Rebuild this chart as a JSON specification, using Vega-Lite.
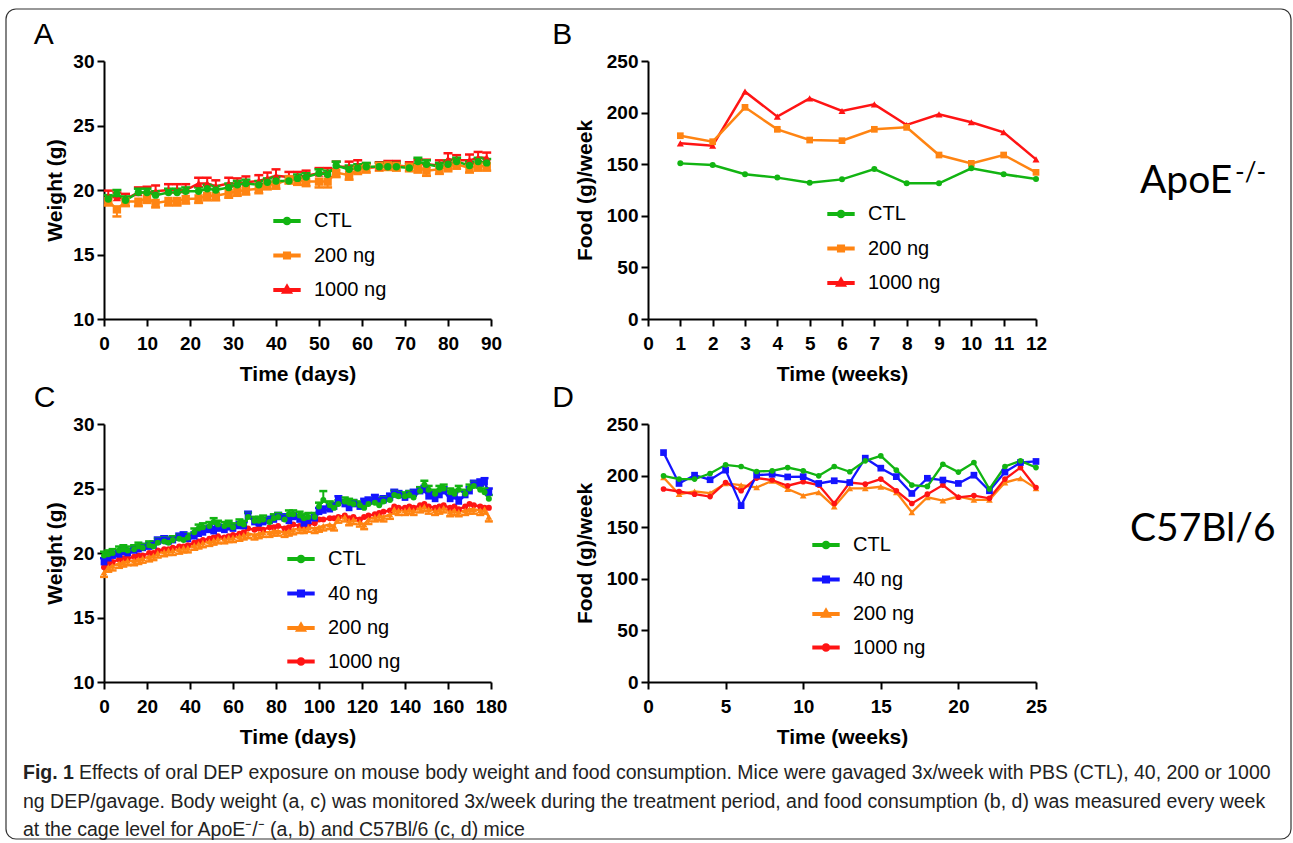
{
"$schema": "https://vega.github.io/schema/vega-lite/v6.json",
"background": "white",
"padding": {"left": 5, "top": 8, "right": 3, "bottom": 4},
"config": {
  "view": {"stroke": null},
  "font": "Liberation Sans",
  "axis": {"domainColor": "black", "domainWidth": 2, "tickColor": "black", "tickWidth": 2, "tickSize": 7, "labelFont": "Liberation Sans", "labelFontSize": 19, "labelFontWeight": "bold", "labelColor": "black", "titleFont": "Liberation Sans", "titleFontSize": 21, "titleFontWeight": "bold", "titleColor": "black", "grid": false, "labelFlush": false, "labelOverlap": false},
  "axisX": {"labelPadding": 8, "titlePadding": 10},
  "axisY": {"labelPadding": 3, "titlePadding": 7},
  "legend": {"labelFont": "Liberation Sans", "labelFontSize": 20, "labelColor": "black", "symbolSize": 750, "symbolStrokeWidth": 4, "rowPadding": 7.5, "labelOffset": 11, "padding": 0, "symbolOpacity": 1, "orient": "none", "title": null},
  "title": {"fontSize": 30, "font": "Liberation Sans Narrow, Liberation Sans", "fontWeight": "normal", "color": "black", "anchor": "start", "frame": "bounds", "offset": 2}
},
"datasets": {
  "A": [
    {"d":1,"s":"1000 ng","v":19.5,"eb":19.95},{"d":3,"s":"1000 ng","v":19.4,"eb":19.8},{"d":5,"s":"1000 ng","v":19.3,"eb":19.7},{"d":8,"s":"1000 ng","v":19.8,"eb":20.2},{"d":10,"s":"1000 ng","v":19.8,"eb":20.25},{"d":12,"s":"1000 ng","v":19.9,"eb":20.35},{"d":15,"s":"1000 ng","v":20.0,"eb":20.45},{"d":17,"s":"1000 ng","v":20.0,"eb":20.45},{"d":19,"s":"1000 ng","v":20.0,"eb":20.45},{"d":22,"s":"1000 ng","v":20.5,"eb":20.95},{"d":24,"s":"1000 ng","v":20.5,"eb":20.95},{"d":26,"s":"1000 ng","v":20.3,"eb":20.75},{"d":29,"s":"1000 ng","v":20.5,"eb":20.95},{"d":31,"s":"1000 ng","v":20.5,"eb":20.9},{"d":33,"s":"1000 ng","v":20.6,"eb":21.05},{"d":36,"s":"1000 ng","v":20.7,"eb":21.15},{"d":38,"s":"1000 ng","v":20.9,"eb":21.35},{"d":40,"s":"1000 ng","v":21.1,"eb":21.6},{"d":43,"s":"1000 ng","v":21.0,"eb":21.4},{"d":45,"s":"1000 ng","v":21.0,"eb":21.4},{"d":47,"s":"1000 ng","v":21.1,"eb":21.5},{"d":50,"s":"1000 ng","v":21.3,"eb":21.7},{"d":52,"s":"1000 ng","v":21.3,"eb":21.7},{"d":54,"s":"1000 ng","v":21.8,"eb":22.2},{"d":57,"s":"1000 ng","v":21.8,"eb":22.2},{"d":59,"s":"1000 ng","v":21.9,"eb":22.3},{"d":61,"s":"1000 ng","v":21.7,"eb":22.05},{"d":64,"s":"1000 ng","v":21.8,"eb":22.15},{"d":66,"s":"1000 ng","v":21.9,"eb":22.25},{"d":68,"s":"1000 ng","v":21.9,"eb":22.25},{"d":71,"s":"1000 ng","v":21.8,"eb":22.15},{"d":73,"s":"1000 ng","v":22.0,"eb":22.35},{"d":75,"s":"1000 ng","v":22.0,"eb":22.35},{"d":78,"s":"1000 ng","v":21.9,"eb":22.3},{"d":80,"s":"1000 ng","v":22.4,"eb":22.85},{"d":82,"s":"1000 ng","v":22.3,"eb":22.7},{"d":85,"s":"1000 ng","v":22.3,"eb":22.75},{"d":87,"s":"1000 ng","v":22.5,"eb":22.95},{"d":89,"s":"1000 ng","v":22.5,"eb":22.9},
    {"d":1,"s":"200 ng","v":19.15,"eb":18.8},{"d":3,"s":"200 ng","v":18.5,"eb":17.95},{"d":5,"s":"200 ng","v":19.1,"eb":18.75},{"d":8,"s":"200 ng","v":19.1,"eb":18.75},{"d":10,"s":"200 ng","v":19.35,"eb":19.0},{"d":12,"s":"200 ng","v":19.0,"eb":18.65},{"d":15,"s":"200 ng","v":19.15,"eb":18.8},{"d":17,"s":"200 ng","v":19.15,"eb":18.8},{"d":19,"s":"200 ng","v":19.3,"eb":18.95},{"d":22,"s":"200 ng","v":19.35,"eb":19.0},{"d":24,"s":"200 ng","v":19.55,"eb":19.2},{"d":26,"s":"200 ng","v":19.55,"eb":19.2},{"d":29,"s":"200 ng","v":19.75,"eb":19.4},{"d":31,"s":"200 ng","v":19.9,"eb":19.55},{"d":33,"s":"200 ng","v":20.0,"eb":19.65},{"d":36,"s":"200 ng","v":20.1,"eb":19.75},{"d":38,"s":"200 ng","v":20.4,"eb":20.05},{"d":40,"s":"200 ng","v":20.45,"eb":20.1},{"d":43,"s":"200 ng","v":20.85,"eb":20.5},{"d":45,"s":"200 ng","v":20.75,"eb":20.4},{"d":47,"s":"200 ng","v":20.65,"eb":20.3},{"d":50,"s":"200 ng","v":20.65,"eb":20.2},{"d":52,"s":"200 ng","v":20.65,"eb":20.2},{"d":54,"s":"200 ng","v":21.35,"eb":21.0},{"d":57,"s":"200 ng","v":21.15,"eb":20.8},{"d":59,"s":"200 ng","v":21.6,"eb":21.25},{"d":61,"s":"200 ng","v":21.7,"eb":21.35},{"d":64,"s":"200 ng","v":21.85,"eb":21.5},{"d":66,"s":"200 ng","v":21.9,"eb":21.55},{"d":68,"s":"200 ng","v":21.85,"eb":21.5},{"d":71,"s":"200 ng","v":21.8,"eb":21.45},{"d":73,"s":"200 ng","v":21.7,"eb":21.35},{"d":75,"s":"200 ng","v":21.5,"eb":21.1},{"d":78,"s":"200 ng","v":21.6,"eb":21.25},{"d":80,"s":"200 ng","v":21.8,"eb":21.45},{"d":82,"s":"200 ng","v":22.0,"eb":21.65},{"d":85,"s":"200 ng","v":21.7,"eb":21.35},{"d":87,"s":"200 ng","v":21.85,"eb":21.5},{"d":89,"s":"200 ng","v":21.85,"eb":21.5},
    {"d":1,"s":"CTL","v":19.3,"eb":19.6},{"d":3,"s":"CTL","v":19.7,"eb":20.0},{"d":5,"s":"CTL","v":19.2,"eb":19.5},{"d":8,"s":"CTL","v":19.8,"eb":20.1},{"d":10,"s":"CTL","v":19.8,"eb":20.1},{"d":12,"s":"CTL","v":19.6,"eb":19.9},{"d":15,"s":"CTL","v":19.8,"eb":20.1},{"d":17,"s":"CTL","v":19.8,"eb":20.1},{"d":19,"s":"CTL","v":19.9,"eb":20.2},{"d":22,"s":"CTL","v":19.9,"eb":20.2},{"d":24,"s":"CTL","v":20.1,"eb":20.4},{"d":26,"s":"CTL","v":20.0,"eb":20.3},{"d":29,"s":"CTL","v":20.2,"eb":20.5},{"d":31,"s":"CTL","v":20.4,"eb":20.7},{"d":33,"s":"CTL","v":20.5,"eb":20.8},{"d":36,"s":"CTL","v":20.4,"eb":20.7},{"d":38,"s":"CTL","v":20.6,"eb":20.9},{"d":40,"s":"CTL","v":20.7,"eb":21.0},{"d":43,"s":"CTL","v":20.7,"eb":21.0},{"d":45,"s":"CTL","v":20.9,"eb":21.2},{"d":47,"s":"CTL","v":21.0,"eb":21.3},{"d":50,"s":"CTL","v":21.3,"eb":21.6},{"d":52,"s":"CTL","v":21.2,"eb":21.5},{"d":54,"s":"CTL","v":21.9,"eb":22.2},{"d":57,"s":"CTL","v":21.6,"eb":21.9},{"d":59,"s":"CTL","v":21.7,"eb":22.0},{"d":61,"s":"CTL","v":21.8,"eb":22.1},{"d":64,"s":"CTL","v":21.8,"eb":22.1},{"d":66,"s":"CTL","v":21.8,"eb":22.1},{"d":68,"s":"CTL","v":21.8,"eb":22.1},{"d":71,"s":"CTL","v":21.7,"eb":22.0},{"d":73,"s":"CTL","v":22.2,"eb":22.5},{"d":75,"s":"CTL","v":22.0,"eb":22.3},{"d":78,"s":"CTL","v":21.8,"eb":22.1},{"d":80,"s":"CTL","v":22.0,"eb":22.3},{"d":82,"s":"CTL","v":22.2,"eb":22.5},{"d":85,"s":"CTL","v":21.9,"eb":22.2},{"d":87,"s":"CTL","v":22.2,"eb":22.5},{"d":89,"s":"CTL","v":22.1,"eb":22.4}
  ],
  "B": [
    {"d":1,"s":"1000 ng","v":170.2},{"d":2,"s":"1000 ng","v":168},{"d":3,"s":"1000 ng","v":220.3},{"d":4,"s":"1000 ng","v":196.1},{"d":5,"s":"1000 ng","v":213.8},{"d":6,"s":"1000 ng","v":201.6},{"d":7,"s":"1000 ng","v":208},{"d":8,"s":"1000 ng","v":188},{"d":9,"s":"1000 ng","v":198.3},{"d":10,"s":"1000 ng","v":190.6},{"d":11,"s":"1000 ng","v":180.9},{"d":12,"s":"1000 ng","v":154.7},
    {"d":1,"s":"200 ng","v":177.6},{"d":2,"s":"200 ng","v":171.8},{"d":3,"s":"200 ng","v":205.1},{"d":4,"s":"200 ng","v":183.8},{"d":5,"s":"200 ng","v":173.4},{"d":6,"s":"200 ng","v":172.8},{"d":7,"s":"200 ng","v":183.8},{"d":8,"s":"200 ng","v":185.7},{"d":9,"s":"200 ng","v":158.9},{"d":10,"s":"200 ng","v":150.8},{"d":11,"s":"200 ng","v":158.9},{"d":12,"s":"200 ng","v":142.1},
    {"d":1,"s":"CTL","v":150.8},{"d":2,"s":"CTL","v":149.2},{"d":3,"s":"CTL","v":140.2},{"d":4,"s":"CTL","v":137},{"d":5,"s":"CTL","v":132.1},{"d":6,"s":"CTL","v":135.3},{"d":7,"s":"CTL","v":145.3},{"d":8,"s":"CTL","v":131.5},{"d":9,"s":"CTL","v":131.5},{"d":10,"s":"CTL","v":146},{"d":11,"s":"CTL","v":140.2},{"d":12,"s":"CTL","v":135.7}
  ],
  "C": [
    {"d":0,"s":"1000 ng","v":18.9},{"d":2,"s":"1000 ng","v":19.2},{"d":4,"s":"1000 ng","v":19.3},{"d":7,"s":"1000 ng","v":19.5},{"d":9,"s":"1000 ng","v":19.6},{"d":11,"s":"1000 ng","v":19.6},{"d":14,"s":"1000 ng","v":19.7},{"d":16,"s":"1000 ng","v":19.8},{"d":18,"s":"1000 ng","v":19.8},{"d":21,"s":"1000 ng","v":20.0},{"d":23,"s":"1000 ng","v":20.0},{"d":25,"s":"1000 ng","v":20.2},{"d":28,"s":"1000 ng","v":20.3},{"d":30,"s":"1000 ng","v":20.3},{"d":32,"s":"1000 ng","v":20.4},{"d":35,"s":"1000 ng","v":20.5},{"d":37,"s":"1000 ng","v":20.5},{"d":39,"s":"1000 ng","v":20.6},{"d":42,"s":"1000 ng","v":20.8},{"d":44,"s":"1000 ng","v":20.9},{"d":46,"s":"1000 ng","v":21.0},{"d":49,"s":"1000 ng","v":21.1},{"d":51,"s":"1000 ng","v":21.2},{"d":53,"s":"1000 ng","v":21.3},{"d":56,"s":"1000 ng","v":21.2},{"d":58,"s":"1000 ng","v":21.3},{"d":60,"s":"1000 ng","v":21.4},{"d":63,"s":"1000 ng","v":21.5},{"d":65,"s":"1000 ng","v":21.6},{"d":67,"s":"1000 ng","v":21.9},{"d":70,"s":"1000 ng","v":21.8},{"d":72,"s":"1000 ng","v":21.9},{"d":74,"s":"1000 ng","v":21.8},{"d":77,"s":"1000 ng","v":22.0},{"d":79,"s":"1000 ng","v":22.0},{"d":81,"s":"1000 ng","v":22.1},{"d":84,"s":"1000 ng","v":21.9},{"d":86,"s":"1000 ng","v":22.0},{"d":88,"s":"1000 ng","v":22.2},{"d":91,"s":"1000 ng","v":22.1},{"d":93,"s":"1000 ng","v":22.1},{"d":95,"s":"1000 ng","v":22.2},{"d":98,"s":"1000 ng","v":22.3},{"d":100,"s":"1000 ng","v":22.6},{"d":102,"s":"1000 ng","v":22.6},{"d":105,"s":"1000 ng","v":22.7},{"d":107,"s":"1000 ng","v":22.7},{"d":109,"s":"1000 ng","v":22.8},{"d":112,"s":"1000 ng","v":22.9},{"d":114,"s":"1000 ng","v":22.7},{"d":116,"s":"1000 ng","v":22.8},{"d":119,"s":"1000 ng","v":22.6},{"d":121,"s":"1000 ng","v":22.8},{"d":123,"s":"1000 ng","v":22.9},{"d":126,"s":"1000 ng","v":23.0},{"d":128,"s":"1000 ng","v":23.1},{"d":130,"s":"1000 ng","v":23.2},{"d":133,"s":"1000 ng","v":23.3},{"d":135,"s":"1000 ng","v":23.6},{"d":137,"s":"1000 ng","v":23.5},{"d":140,"s":"1000 ng","v":23.5},{"d":142,"s":"1000 ng","v":23.6},{"d":144,"s":"1000 ng","v":23.5},{"d":147,"s":"1000 ng","v":23.7},{"d":149,"s":"1000 ng","v":23.8},{"d":151,"s":"1000 ng","v":23.6},{"d":154,"s":"1000 ng","v":23.5},{"d":156,"s":"1000 ng","v":23.6},{"d":158,"s":"1000 ng","v":23.7},{"d":161,"s":"1000 ng","v":23.5},{"d":163,"s":"1000 ng","v":23.6},{"d":165,"s":"1000 ng","v":23.4},{"d":168,"s":"1000 ng","v":23.6},{"d":170,"s":"1000 ng","v":23.8},{"d":172,"s":"1000 ng","v":23.7},{"d":175,"s":"1000 ng","v":23.6},{"d":177,"s":"1000 ng","v":23.5},{"d":179,"s":"1000 ng","v":23.5},
    {"d":0,"s":"200 ng","v":18.5,"eb":18.15},{"d":2,"s":"200 ng","v":18.9,"eb":18.55},{"d":4,"s":"200 ng","v":19.0,"eb":18.65},{"d":7,"s":"200 ng","v":19.2,"eb":18.85},{"d":9,"s":"200 ng","v":19.3,"eb":18.95},{"d":11,"s":"200 ng","v":19.4,"eb":19.05},{"d":14,"s":"200 ng","v":19.4,"eb":19.05},{"d":16,"s":"200 ng","v":19.5,"eb":19.15},{"d":18,"s":"200 ng","v":19.6,"eb":19.25},{"d":21,"s":"200 ng","v":19.7,"eb":19.35},{"d":23,"s":"200 ng","v":19.8,"eb":19.45},{"d":25,"s":"200 ng","v":20.0,"eb":19.65},{"d":28,"s":"200 ng","v":20.1,"eb":19.75},{"d":30,"s":"200 ng","v":20.2,"eb":19.85},{"d":32,"s":"200 ng","v":20.2,"eb":19.85},{"d":35,"s":"200 ng","v":20.3,"eb":19.95},{"d":37,"s":"200 ng","v":20.4,"eb":20.05},{"d":39,"s":"200 ng","v":20.4,"eb":20.05},{"d":42,"s":"200 ng","v":20.6,"eb":20.25},{"d":44,"s":"200 ng","v":20.7,"eb":20.35},{"d":46,"s":"200 ng","v":20.8,"eb":20.45},{"d":49,"s":"200 ng","v":20.9,"eb":20.55},{"d":51,"s":"200 ng","v":21.0,"eb":20.65},{"d":53,"s":"200 ng","v":21.1,"eb":20.75},{"d":56,"s":"200 ng","v":21.1,"eb":20.75},{"d":58,"s":"200 ng","v":21.2,"eb":20.85},{"d":60,"s":"200 ng","v":21.2,"eb":20.85},{"d":63,"s":"200 ng","v":21.3,"eb":20.95},{"d":65,"s":"200 ng","v":21.4,"eb":21.05},{"d":67,"s":"200 ng","v":21.5,"eb":21.15},{"d":70,"s":"200 ng","v":21.4,"eb":21.05},{"d":72,"s":"200 ng","v":21.5,"eb":21.15},{"d":74,"s":"200 ng","v":21.6,"eb":21.25},{"d":77,"s":"200 ng","v":21.6,"eb":21.25},{"d":79,"s":"200 ng","v":21.7,"eb":21.35},{"d":81,"s":"200 ng","v":21.7,"eb":21.35},{"d":84,"s":"200 ng","v":21.6,"eb":21.25},{"d":86,"s":"200 ng","v":21.7,"eb":21.35},{"d":88,"s":"200 ng","v":21.8,"eb":21.45},{"d":91,"s":"200 ng","v":21.9,"eb":21.55},{"d":93,"s":"200 ng","v":21.9,"eb":21.55},{"d":95,"s":"200 ng","v":22.0,"eb":21.65},{"d":98,"s":"200 ng","v":21.9,"eb":21.55},{"d":100,"s":"200 ng","v":22.0,"eb":21.65},{"d":102,"s":"200 ng","v":22.1,"eb":21.75},{"d":105,"s":"200 ng","v":22.2,"eb":21.85},{"d":107,"s":"200 ng","v":22.1,"eb":21.75},{"d":109,"s":"200 ng","v":22.7,"eb":22.35},{"d":112,"s":"200 ng","v":22.8,"eb":22.45},{"d":114,"s":"200 ng","v":22.5,"eb":22.15},{"d":116,"s":"200 ng","v":22.6,"eb":22.25},{"d":119,"s":"200 ng","v":22.4,"eb":22.05},{"d":121,"s":"200 ng","v":22.2,"eb":21.85},{"d":123,"s":"200 ng","v":22.6,"eb":22.25},{"d":126,"s":"200 ng","v":22.8,"eb":22.45},{"d":128,"s":"200 ng","v":22.9,"eb":22.55},{"d":130,"s":"200 ng","v":22.8,"eb":22.45},{"d":133,"s":"200 ng","v":23.0,"eb":22.65},{"d":135,"s":"200 ng","v":23.4,"eb":23.05},{"d":137,"s":"200 ng","v":23.3,"eb":22.95},{"d":140,"s":"200 ng","v":23.3,"eb":22.95},{"d":142,"s":"200 ng","v":23.4,"eb":23.05},{"d":144,"s":"200 ng","v":23.3,"eb":22.95},{"d":147,"s":"200 ng","v":23.5,"eb":23.15},{"d":149,"s":"200 ng","v":23.6,"eb":23.25},{"d":151,"s":"200 ng","v":23.4,"eb":23.05},{"d":154,"s":"200 ng","v":23.3,"eb":22.95},{"d":156,"s":"200 ng","v":23.4,"eb":23.05},{"d":158,"s":"200 ng","v":23.5,"eb":23.15},{"d":161,"s":"200 ng","v":23.2,"eb":22.85},{"d":163,"s":"200 ng","v":23.3,"eb":22.95},{"d":165,"s":"200 ng","v":23.2,"eb":22.85},{"d":168,"s":"200 ng","v":23.3,"eb":22.95},{"d":170,"s":"200 ng","v":23.4,"eb":23.05},{"d":172,"s":"200 ng","v":23.4,"eb":23.05},{"d":175,"s":"200 ng","v":23.3,"eb":22.95},{"d":177,"s":"200 ng","v":23.4,"eb":23.05},{"d":179,"s":"200 ng","v":22.8,"eb":22.45},
    {"d":0,"s":"40 ng","v":19.3,"eb":19.6},{"d":2,"s":"40 ng","v":19.6,"eb":19.9},{"d":4,"s":"40 ng","v":19.8,"eb":20.1},{"d":7,"s":"40 ng","v":19.9,"eb":20.2},{"d":9,"s":"40 ng","v":20.1,"eb":20.4},{"d":11,"s":"40 ng","v":20.0,"eb":20.3},{"d":14,"s":"40 ng","v":20.2,"eb":20.5},{"d":16,"s":"40 ng","v":20.3,"eb":20.6},{"d":18,"s":"40 ng","v":20.4,"eb":20.7},{"d":21,"s":"40 ng","v":20.5,"eb":20.8},{"d":23,"s":"40 ng","v":20.6,"eb":20.9},{"d":25,"s":"40 ng","v":20.9,"eb":21.2},{"d":28,"s":"40 ng","v":21.0,"eb":21.3},{"d":30,"s":"40 ng","v":20.9,"eb":21.2},{"d":32,"s":"40 ng","v":21.0,"eb":21.3},{"d":35,"s":"40 ng","v":21.2,"eb":21.5},{"d":37,"s":"40 ng","v":21.3,"eb":21.6},{"d":39,"s":"40 ng","v":21.1,"eb":21.4},{"d":42,"s":"40 ng","v":21.3,"eb":21.6},{"d":44,"s":"40 ng","v":21.5,"eb":21.8},{"d":46,"s":"40 ng","v":21.6,"eb":21.9},{"d":49,"s":"40 ng","v":21.8,"eb":22.1},{"d":51,"s":"40 ng","v":21.7,"eb":22.0},{"d":53,"s":"40 ng","v":21.9,"eb":22.2},{"d":56,"s":"40 ng","v":21.8,"eb":22.1},{"d":58,"s":"40 ng","v":22.0,"eb":22.3},{"d":60,"s":"40 ng","v":21.9,"eb":22.2},{"d":63,"s":"40 ng","v":22.1,"eb":22.4},{"d":65,"s":"40 ng","v":22.1,"eb":22.4},{"d":67,"s":"40 ng","v":22.9,"eb":23.2},{"d":70,"s":"40 ng","v":22.4,"eb":22.7},{"d":72,"s":"40 ng","v":22.3,"eb":22.6},{"d":74,"s":"40 ng","v":22.4,"eb":22.7},{"d":77,"s":"40 ng","v":22.5,"eb":22.8},{"d":79,"s":"40 ng","v":22.6,"eb":22.9},{"d":81,"s":"40 ng","v":22.8,"eb":23.1},{"d":84,"s":"40 ng","v":22.7,"eb":23.0},{"d":86,"s":"40 ng","v":22.5,"eb":22.8},{"d":88,"s":"40 ng","v":22.8,"eb":23.1},{"d":91,"s":"40 ng","v":22.6,"eb":22.9},{"d":93,"s":"40 ng","v":22.3,"eb":22.6},{"d":95,"s":"40 ng","v":22.5,"eb":22.8},{"d":98,"s":"40 ng","v":22.7,"eb":23.0},{"d":100,"s":"40 ng","v":23.2,"eb":23.5},{"d":102,"s":"40 ng","v":23.3,"eb":23.6},{"d":105,"s":"40 ng","v":23.4,"eb":23.7},{"d":107,"s":"40 ng","v":23.6,"eb":23.9},{"d":109,"s":"40 ng","v":24.1,"eb":24.4},{"d":112,"s":"40 ng","v":23.8,"eb":24.1},{"d":114,"s":"40 ng","v":23.5,"eb":23.8},{"d":116,"s":"40 ng","v":23.8,"eb":24.1},{"d":119,"s":"40 ng","v":23.6,"eb":23.9},{"d":121,"s":"40 ng","v":23.9,"eb":24.2},{"d":123,"s":"40 ng","v":24.0,"eb":24.3},{"d":126,"s":"40 ng","v":24.2,"eb":24.5},{"d":128,"s":"40 ng","v":24.0,"eb":24.3},{"d":130,"s":"40 ng","v":24.1,"eb":24.4},{"d":133,"s":"40 ng","v":24.3,"eb":24.6},{"d":135,"s":"40 ng","v":24.6,"eb":24.9},{"d":137,"s":"40 ng","v":24.5,"eb":24.8},{"d":140,"s":"40 ng","v":24.3,"eb":24.6},{"d":142,"s":"40 ng","v":24.5,"eb":24.8},{"d":144,"s":"40 ng","v":24.6,"eb":24.9},{"d":147,"s":"40 ng","v":24.8,"eb":25.1},{"d":149,"s":"40 ng","v":24.9,"eb":25.2},{"d":151,"s":"40 ng","v":24.4,"eb":24.7},{"d":154,"s":"40 ng","v":24.2,"eb":24.5},{"d":156,"s":"40 ng","v":24.5,"eb":24.8},{"d":158,"s":"40 ng","v":24.8,"eb":25.1},{"d":161,"s":"40 ng","v":24.2,"eb":24.5},{"d":163,"s":"40 ng","v":24.4,"eb":24.7},{"d":165,"s":"40 ng","v":24.0,"eb":24.3},{"d":168,"s":"40 ng","v":24.5,"eb":24.8},{"d":170,"s":"40 ng","v":24.8,"eb":25.1},{"d":172,"s":"40 ng","v":25.3,"eb":25.6},{"d":175,"s":"40 ng","v":25.4,"eb":25.7},{"d":177,"s":"40 ng","v":25.5,"eb":25.8},{"d":179,"s":"40 ng","v":24.7,"eb":25.0},
    {"d":0,"s":"CTL","v":19.8,"eb":20.1},{"d":2,"s":"CTL","v":19.9,"eb":20.2},{"d":4,"s":"CTL","v":20.0,"eb":20.3},{"d":7,"s":"CTL","v":20.2,"eb":20.5},{"d":9,"s":"CTL","v":20.3,"eb":20.6},{"d":11,"s":"CTL","v":20.2,"eb":20.5},{"d":14,"s":"CTL","v":20.3,"eb":20.6},{"d":16,"s":"CTL","v":20.5,"eb":20.8},{"d":18,"s":"CTL","v":20.4,"eb":20.7},{"d":21,"s":"CTL","v":20.6,"eb":20.9},{"d":23,"s":"CTL","v":20.5,"eb":20.8},{"d":25,"s":"CTL","v":20.8,"eb":21.1},{"d":28,"s":"CTL","v":20.9,"eb":21.2},{"d":30,"s":"CTL","v":20.8,"eb":21.1},{"d":32,"s":"CTL","v":21.0,"eb":21.3},{"d":35,"s":"CTL","v":21.1,"eb":21.4},{"d":37,"s":"CTL","v":21.0,"eb":21.3},{"d":39,"s":"CTL","v":21.2,"eb":21.5},{"d":42,"s":"CTL","v":21.6,"eb":21.9},{"d":44,"s":"CTL","v":21.9,"eb":22.2},{"d":46,"s":"CTL","v":22.0,"eb":22.3},{"d":49,"s":"CTL","v":22.1,"eb":22.4},{"d":51,"s":"CTL","v":22.4,"eb":22.7},{"d":53,"s":"CTL","v":22.2,"eb":22.5},{"d":56,"s":"CTL","v":22.1,"eb":22.4},{"d":58,"s":"CTL","v":22.2,"eb":22.5},{"d":60,"s":"CTL","v":22.0,"eb":22.3},{"d":63,"s":"CTL","v":22.3,"eb":22.6},{"d":65,"s":"CTL","v":22.2,"eb":22.5},{"d":67,"s":"CTL","v":22.8,"eb":23.1},{"d":70,"s":"CTL","v":22.5,"eb":22.8},{"d":72,"s":"CTL","v":22.5,"eb":22.8},{"d":74,"s":"CTL","v":22.6,"eb":22.9},{"d":77,"s":"CTL","v":22.4,"eb":22.7},{"d":79,"s":"CTL","v":22.7,"eb":23.0},{"d":81,"s":"CTL","v":22.8,"eb":23.1},{"d":84,"s":"CTL","v":22.6,"eb":22.9},{"d":86,"s":"CTL","v":23.0,"eb":23.3},{"d":88,"s":"CTL","v":23.0,"eb":23.3},{"d":91,"s":"CTL","v":22.9,"eb":23.2},{"d":93,"s":"CTL","v":22.7,"eb":23.0},{"d":95,"s":"CTL","v":22.8,"eb":23.1},{"d":98,"s":"CTL","v":22.8,"eb":23.1},{"d":100,"s":"CTL","v":23.6,"eb":23.9},{"d":102,"s":"CTL","v":24.1,"eb":24.8},{"d":105,"s":"CTL","v":23.7,"eb":24.0},{"d":107,"s":"CTL","v":23.5,"eb":23.8},{"d":109,"s":"CTL","v":23.8,"eb":24.1},{"d":112,"s":"CTL","v":24.0,"eb":24.3},{"d":114,"s":"CTL","v":23.9,"eb":24.2},{"d":116,"s":"CTL","v":23.8,"eb":24.1},{"d":119,"s":"CTL","v":23.7,"eb":24.0},{"d":121,"s":"CTL","v":23.5,"eb":23.8},{"d":123,"s":"CTL","v":23.8,"eb":24.1},{"d":126,"s":"CTL","v":23.9,"eb":24.2},{"d":128,"s":"CTL","v":23.7,"eb":24.0},{"d":130,"s":"CTL","v":24.0,"eb":24.3},{"d":133,"s":"CTL","v":24.1,"eb":24.4},{"d":135,"s":"CTL","v":24.5,"eb":24.8},{"d":137,"s":"CTL","v":24.4,"eb":24.7},{"d":140,"s":"CTL","v":24.4,"eb":24.7},{"d":142,"s":"CTL","v":24.5,"eb":24.8},{"d":144,"s":"CTL","v":24.3,"eb":24.6},{"d":147,"s":"CTL","v":24.8,"eb":25.1},{"d":149,"s":"CTL","v":25.3,"eb":25.6},{"d":151,"s":"CTL","v":24.9,"eb":25.2},{"d":154,"s":"CTL","v":24.6,"eb":24.9},{"d":156,"s":"CTL","v":24.9,"eb":25.2},{"d":158,"s":"CTL","v":25.0,"eb":25.3},{"d":161,"s":"CTL","v":24.7,"eb":25.0},{"d":163,"s":"CTL","v":24.6,"eb":24.9},{"d":165,"s":"CTL","v":24.9,"eb":25.2},{"d":168,"s":"CTL","v":24.6,"eb":24.9},{"d":170,"s":"CTL","v":25.0,"eb":25.3},{"d":172,"s":"CTL","v":25.2,"eb":25.5},{"d":175,"s":"CTL","v":24.9,"eb":25.2},{"d":177,"s":"CTL","v":24.7,"eb":25.0},{"d":179,"s":"CTL","v":24.2,"eb":24.5}
  ],
  "D": [
    {"d":1,"s":"200 ng","v":198.2},{"d":2,"s":"200 ng","v":182},{"d":3,"s":"200 ng","v":184.6},{"d":4,"s":"200 ng","v":183},{"d":5,"s":"200 ng","v":192.4},{"d":6,"s":"200 ng","v":190.8},{"d":7,"s":"200 ng","v":188.5},{"d":8,"s":"200 ng","v":195},{"d":9,"s":"200 ng","v":187},{"d":10,"s":"200 ng","v":180.6},{"d":11,"s":"200 ng","v":183.8},{"d":12,"s":"200 ng","v":169.9},{"d":13,"s":"200 ng","v":187.6},{"d":14,"s":"200 ng","v":187.6},{"d":15,"s":"200 ng","v":189.2},{"d":16,"s":"200 ng","v":183.8},{"d":17,"s":"200 ng","v":164.4},{"d":18,"s":"200 ng","v":179},{"d":19,"s":"200 ng","v":175.8},{"d":20,"s":"200 ng","v":179.7},{"d":21,"s":"200 ng","v":176.4},{"d":22,"s":"200 ng","v":176.4},{"d":23,"s":"200 ng","v":193.3},{"d":24,"s":"200 ng","v":197.3},{"d":25,"s":"200 ng","v":187.6},
    {"d":1,"s":"1000 ng","v":187},{"d":2,"s":"1000 ng","v":184.6},{"d":3,"s":"1000 ng","v":182},{"d":4,"s":"1000 ng","v":179.7},{"d":5,"s":"1000 ng","v":193.3},{"d":6,"s":"1000 ng","v":185.3},{"d":7,"s":"1000 ng","v":197.6},{"d":8,"s":"1000 ng","v":195.7},{"d":9,"s":"1000 ng","v":190.2},{"d":10,"s":"1000 ng","v":194},{"d":11,"s":"1000 ng","v":190.8},{"d":12,"s":"1000 ng","v":173},{"d":13,"s":"1000 ng","v":193.3},{"d":14,"s":"1000 ng","v":191.7},{"d":15,"s":"1000 ng","v":196.6},{"d":16,"s":"1000 ng","v":185.3},{"d":17,"s":"1000 ng","v":173},{"d":18,"s":"1000 ng","v":182},{"d":19,"s":"1000 ng","v":190.8},{"d":20,"s":"1000 ng","v":179},{"d":21,"s":"1000 ng","v":180.6},{"d":22,"s":"1000 ng","v":178},{"d":23,"s":"1000 ng","v":196.6},{"d":24,"s":"1000 ng","v":207.8},{"d":25,"s":"1000 ng","v":188.5},
    {"d":1,"s":"40 ng","v":222.3},{"d":2,"s":"40 ng","v":192.4},{"d":3,"s":"40 ng","v":200.4},{"d":4,"s":"40 ng","v":196},{"d":5,"s":"40 ng","v":205.3},{"d":6,"s":"40 ng","v":170.9},{"d":7,"s":"40 ng","v":200.4},{"d":8,"s":"40 ng","v":201.3},{"d":9,"s":"40 ng","v":198.7},{"d":10,"s":"40 ng","v":199},{"d":11,"s":"40 ng","v":192.4},{"d":12,"s":"40 ng","v":195},{"d":13,"s":"40 ng","v":193.3},{"d":14,"s":"40 ng","v":216.9},{"d":15,"s":"40 ng","v":207.2},{"d":16,"s":"40 ng","v":199},{"d":17,"s":"40 ng","v":182.7},{"d":18,"s":"40 ng","v":197.4},{"d":19,"s":"40 ng","v":195.7},{"d":20,"s":"40 ng","v":192.4},{"d":21,"s":"40 ng","v":200.4},{"d":22,"s":"40 ng","v":185.3},{"d":23,"s":"40 ng","v":203.4},{"d":24,"s":"40 ng","v":212.7},{"d":25,"s":"40 ng","v":213.7},
    {"d":1,"s":"CTL","v":199.8},{"d":2,"s":"CTL","v":196.6},{"d":3,"s":"CTL","v":196.6},{"d":4,"s":"CTL","v":202},{"d":5,"s":"CTL","v":210.4},{"d":6,"s":"CTL","v":208.8},{"d":7,"s":"CTL","v":204},{"d":8,"s":"CTL","v":204.6},{"d":9,"s":"CTL","v":207.8},{"d":10,"s":"CTL","v":204.6},{"d":11,"s":"CTL","v":199.8},{"d":12,"s":"CTL","v":208.8},{"d":13,"s":"CTL","v":203.7},{"d":14,"s":"CTL","v":214.3},{"d":15,"s":"CTL","v":219.1},{"d":16,"s":"CTL","v":205.3},{"d":17,"s":"CTL","v":190.8},{"d":18,"s":"CTL","v":189.5},{"d":19,"s":"CTL","v":211},{"d":20,"s":"CTL","v":203.4},{"d":21,"s":"CTL","v":212.7},{"d":22,"s":"CTL","v":187},{"d":23,"s":"CTL","v":208.8},{"d":24,"s":"CTL","v":214.3},{"d":25,"s":"CTL","v":207.8}
  ],
  "cap": [
    {"line": 1, "part": "rest", "text": "Effects of oral DEP exposure on mouse body weight and food consumption. Mice were gavaged 3x/week with PBS (CTL), 40, 200 or 1000"},
    {"line": 2, "part": "body", "text": "ng DEP/gavage. Body weight (a, c) was monitored 3x/week during the treatment period, and food consumption (b, d) was measured every week"},
    {"line": 3, "part": "body", "text": "at the cage level for ApoE⁻/⁻ (a, b) and C57Bl/6 (c, d) mice"},
    {"line": 1, "part": "bold", "text": "Fig. 1"}
  ]
},
"resolve": {"scale": {"color": "independent", "shape": "independent", "fill": "independent", "stroke": "independent"}, "legend": {"color": "independent", "shape": "independent"}},
"columns": 2,
"bounds": "flush",
"align": "each",
"spacing": {"row": 105, "column": 157},
"concat": [
  {
    "width": 387, "height": 258,
    "title": {"text": "A", "dx": -11},
    "data": {"name": "A"},
    "encoding": {
      "x": {"field": "d", "type": "quantitative", "scale": {"domain": [0, 90], "nice": false}, "axis": {"values": [0,10,20,30,40,50,60,70,80,90], "title": "Time (days)"}},
      "y": {"field": "v", "type": "quantitative", "scale": {"domain": [10, 30], "nice": false, "zero": false}, "axis": {"values": [10,15,20,25,30], "title": "Weight (g)"}}
    },
    "layer": [
      {"mark": {"type": "point", "filled": false, "opacity": 0, "strokeWidth": 4},
       "encoding": {
        "color": {"field": "s", "type": "nominal", "scale": {"domain": ["CTL","200 ng","1000 ng"], "range": ["#12b412","#ff8412","#ff1414"]}, "legend": {"legendX": 167, "legendY": 144}},
        "shape": {"field": "s", "type": "nominal", "scale": {"domain": ["CTL","200 ng","1000 ng"], "range": ["M-1,0H1M0.17,0A0.17,0.17,0,1,1,-0.17,0A0.17,0.17,0,1,1,0.17,0Z", "M-1,0H1M-0.15,-0.15H0.15V0.15H-0.15Z", "M-1,0H1M0,-0.2L0.19,0.13H-0.19Z"]}, "legend": {"legendX": 167, "legendY": 144}}
       }},
      {"mark": {"type": "line", "strokeWidth": 2.5}, "encoding": {"stroke": {"field": "s", "type": "nominal", "scale": {"domain": ["1000 ng","200 ng","CTL"], "range": ["#ff1414","#ff8412","#12b412"]}, "legend": null}}},
      {"mark": {"type": "rule", "strokeWidth": 2}, "encoding": {"y2": {"field": "eb"}, "stroke": {"field": "s", "type": "nominal", "legend": null}}},
      {"mark": {"type": "tick", "orient": "horizontal", "thickness": 2.5, "size": 9, "opacity": 1}, "encoding": {"y": {"field": "eb", "type": "quantitative", "title": "Weight (g)"}, "fill": {"field": "s", "type": "nominal", "scale": {"domain": ["1000 ng","200 ng","CTL"], "range": ["#ff1414","#ff8412","#12b412"]}, "legend": null}}},
      {"transform": [{"filter": "datum.s === '1000 ng'"}], "mark": {"type": "point", "shape": "triangle-up", "filled": true, "opacity": 1, "size": 70}, "encoding": {"fill": {"field": "s", "type": "nominal", "legend": null}}},
      {"transform": [{"filter": "datum.s === '200 ng'"}], "mark": {"type": "point", "shape": "square", "filled": true, "opacity": 1, "size": 70}, "encoding": {"fill": {"field": "s", "type": "nominal", "legend": null}}},
      {"transform": [{"filter": "datum.s === 'CTL'"}], "mark": {"type": "point", "shape": "circle", "filled": true, "opacity": 1, "size": 55}, "encoding": {"fill": {"field": "s", "type": "nominal", "legend": null}}}
    ]
  },
  {
    "width": 388, "height": 258,
    "title": {"text": "B", "dx": -22},
    "data": {"name": "B"},
    "encoding": {
      "x": {"field": "d", "type": "quantitative", "scale": {"domain": [0, 12], "nice": false}, "axis": {"values": [0,1,2,3,4,5,6,7,8,9,10,11,12], "title": "Time (weeks)"}},
      "y": {"field": "v", "type": "quantitative", "scale": {"domain": [0, 250], "nice": false}, "axis": {"values": [0,50,100,150,200,250], "title": "Food (g)/week", "titlePadding": 11}}
    },
    "layer": [
      {"mark": {"type": "point", "filled": false, "opacity": 0, "strokeWidth": 4},
       "encoding": {
        "color": {"field": "s", "type": "nominal", "scale": {"domain": ["CTL","200 ng","1000 ng"], "range": ["#12b412","#ff8412","#ff1414"]}, "legend": {"legendX": 177, "legendY": 137}},
        "shape": {"field": "s", "type": "nominal", "scale": {"domain": ["CTL","200 ng","1000 ng"], "range": ["M-1,0H1M0.17,0A0.17,0.17,0,1,1,-0.17,0A0.17,0.17,0,1,1,0.17,0Z", "M-1,0H1M-0.15,-0.15H0.15V0.15H-0.15Z", "M-1,0H1M0,-0.2L0.19,0.13H-0.19Z"]}, "legend": {"legendX": 177, "legendY": 137}}
       }},
      {"mark": {"type": "line", "strokeWidth": 2.5}, "encoding": {"stroke": {"field": "s", "type": "nominal", "scale": {"domain": ["1000 ng","200 ng","CTL"], "range": ["#ff1414","#ff8412","#12b412"]}, "legend": null}}},
      {"transform": [{"filter": "datum.s === '1000 ng'"}], "mark": {"type": "point", "shape": "triangle-up", "filled": true, "opacity": 1, "size": 50}, "encoding": {"fill": {"field": "s", "type": "nominal", "scale": {"domain": ["1000 ng","200 ng","CTL"], "range": ["#ff1414","#ff8412","#12b412"]}, "legend": null}}},
      {"transform": [{"filter": "datum.s === '200 ng'"}], "mark": {"type": "point", "shape": "square", "filled": true, "opacity": 1, "size": 45}, "encoding": {"fill": {"field": "s", "type": "nominal", "legend": null}}},
      {"transform": [{"filter": "datum.s === 'CTL'"}], "mark": {"type": "point", "shape": "circle", "filled": true, "opacity": 1, "size": 36}, "encoding": {"fill": {"field": "s", "type": "nominal", "legend": null}}}
    ]
  },
  {
    "width": 387, "height": 258,
    "title": {"text": "C", "dx": -11},
    "data": {"name": "C"},
    "encoding": {
      "x": {"field": "d", "type": "quantitative", "scale": {"domain": [0, 180], "nice": false}, "axis": {"values": [0,20,40,60,80,100,120,140,160,180], "title": "Time (days)"}},
      "y": {"field": "v", "type": "quantitative", "scale": {"domain": [10, 30], "nice": false, "zero": false}, "axis": {"values": [10,15,20,25,30], "title": "Weight (g)"}}
    },
    "layer": [
      {"mark": {"type": "point", "filled": false, "opacity": 0, "strokeWidth": 4},
       "encoding": {
        "color": {"field": "s", "type": "nominal", "scale": {"domain": ["CTL","40 ng","200 ng","1000 ng"], "range": ["#12b412","#1414ff","#ff8412","#ff1414"]}, "legend": {"legendX": 181, "legendY": 119}},
        "shape": {"field": "s", "type": "nominal", "scale": {"domain": ["CTL","40 ng","200 ng","1000 ng"], "range": ["M-1,0H1M0.17,0A0.17,0.17,0,1,1,-0.17,0A0.17,0.17,0,1,1,0.17,0Z", "M-1,0H1M-0.15,-0.15H0.15V0.15H-0.15Z", "M-1,0H1M0,-0.2L0.19,0.13H-0.19Z", "M-1,0H1M0.17,0A0.17,0.17,0,1,1,-0.17,0A0.17,0.17,0,1,1,0.17,0Z"]}, "legend": {"legendX": 181, "legendY": 119}}
       }},
      {"mark": {"type": "line", "strokeWidth": 2.5}, "encoding": {"stroke": {"field": "s", "type": "nominal", "scale": {"domain": ["1000 ng","200 ng","40 ng","CTL"], "range": ["#ff1414","#ff8412","#1414ff","#12b412"]}, "legend": null}}},
      {"mark": {"type": "rule", "strokeWidth": 2}, "encoding": {"y2": {"field": "eb"}, "stroke": {"field": "s", "type": "nominal", "legend": null}}},
      {"mark": {"type": "tick", "orient": "horizontal", "thickness": 2.5, "size": 8, "opacity": 1}, "encoding": {"y": {"field": "eb", "type": "quantitative", "title": "Weight (g)"}, "fill": {"field": "s", "type": "nominal", "scale": {"domain": ["1000 ng","200 ng","40 ng","CTL"], "range": ["#ff1414","#ff8412","#1414ff","#12b412"]}, "legend": null}}},
      {"transform": [{"filter": "datum.s === '1000 ng'"}], "mark": {"type": "point", "shape": "circle", "filled": true, "opacity": 1, "size": 36}, "encoding": {"fill": {"field": "s", "type": "nominal", "legend": null}}},
      {"transform": [{"filter": "datum.s === '200 ng'"}], "mark": {"type": "point", "shape": "triangle-up", "filled": true, "opacity": 1, "size": 45}, "encoding": {"fill": {"field": "s", "type": "nominal", "legend": null}}},
      {"transform": [{"filter": "datum.s === '40 ng'"}], "mark": {"type": "point", "shape": "square", "filled": true, "opacity": 1, "size": 45}, "encoding": {"fill": {"field": "s", "type": "nominal", "legend": null}}},
      {"transform": [{"filter": "datum.s === 'CTL'"}], "mark": {"type": "point", "shape": "circle", "filled": true, "opacity": 1, "size": 36}, "encoding": {"fill": {"field": "s", "type": "nominal", "legend": null}}}
    ]
  },
  {
    "width": 388, "height": 258,
    "title": {"text": "D", "dx": -22},
    "data": {"name": "D"},
    "encoding": {
      "x": {"field": "d", "type": "quantitative", "scale": {"domain": [0, 25], "nice": false}, "axis": {"values": [0,5,10,15,20,25], "title": "Time (weeks)"}},
      "y": {"field": "v", "type": "quantitative", "scale": {"domain": [0, 250], "nice": false}, "axis": {"values": [0,50,100,150,200,250], "title": "Food (g)/week", "titlePadding": 11}}
    },
    "layer": [
      {"mark": {"type": "point", "filled": false, "opacity": 0, "strokeWidth": 4},
       "encoding": {
        "color": {"field": "s", "type": "nominal", "scale": {"domain": ["CTL","40 ng","200 ng","1000 ng"], "range": ["#12b412","#1414ff","#ff8412","#ff1414"]}, "legend": {"legendX": 162, "legendY": 105}},
        "shape": {"field": "s", "type": "nominal", "scale": {"domain": ["CTL","40 ng","200 ng","1000 ng"], "range": ["M-1,0H1M0.17,0A0.17,0.17,0,1,1,-0.17,0A0.17,0.17,0,1,1,0.17,0Z", "M-1,0H1M-0.15,-0.15H0.15V0.15H-0.15Z", "M-1,0H1M0,-0.2L0.19,0.13H-0.19Z", "M-1,0H1M0.17,0A0.17,0.17,0,1,1,-0.17,0A0.17,0.17,0,1,1,0.17,0Z"]}, "legend": {"legendX": 162, "legendY": 105}}
       }},
      {"mark": {"type": "line", "strokeWidth": 2.3}, "encoding": {"stroke": {"field": "s", "type": "nominal", "scale": {"domain": ["1000 ng","200 ng","40 ng","CTL"], "range": ["#ff1414","#ff8412","#1414ff","#12b412"]}, "legend": null}}},
      {"transform": [{"filter": "datum.s === '200 ng'"}], "mark": {"type": "point", "shape": "triangle-up", "filled": true, "opacity": 1, "size": 45}, "encoding": {"fill": {"field": "s", "type": "nominal", "scale": {"domain": ["1000 ng","200 ng","40 ng","CTL"], "range": ["#ff1414","#ff8412","#1414ff","#12b412"]}, "legend": null}}},
      {"transform": [{"filter": "datum.s === '1000 ng'"}], "mark": {"type": "point", "shape": "circle", "filled": true, "opacity": 1, "size": 32}, "encoding": {"fill": {"field": "s", "type": "nominal", "legend": null}}},
      {"transform": [{"filter": "datum.s === '40 ng'"}], "mark": {"type": "point", "shape": "square", "filled": true, "opacity": 1, "size": 45}, "encoding": {"fill": {"field": "s", "type": "nominal", "legend": null}}},
      {"transform": [{"filter": "datum.s === 'CTL'"}], "mark": {"type": "point", "shape": "circle", "filled": true, "opacity": 1, "size": 32}, "encoding": {"fill": {"field": "s", "type": "nominal", "legend": null}}}
    ]
  },
  {
    "width": 387, "height": 50,
    "data": {"name": "cap"},
    "resolve": {"scale": {"y": "independent"}},
    "layer": [
      {"data": {"values": [{"k": "frame"}]}, "mark": {"type": "rect", "fill": null, "stroke": "#333333", "strokeWidth": 1.2, "cornerRadius": 10},
       "encoding": {"x": {"datum": -98, "type": "quantitative", "scale": {"domain": [0, 387], "range": [0, 387], "nice": false, "zero": false}, "axis": null}, "x2": {"datum": 1187}, "y": {"datum": -778, "type": "quantitative", "scale": {"domain": [0, 50], "range": [0, 50], "nice": false, "zero": false}, "axis": null}, "y2": {"datum": 52}}},
      {"data": {"values": [{"t": "ApoE"}]}, "mark": {"type": "text", "font": "Lato", "fontSize": 39, "align": "left", "baseline": "alphabetic", "color": "black"},
       "encoding": {"x": {"datum": 1036, "type": "quantitative"}, "y": {"datum": -594, "type": "quantitative", "scale": {"domain": [0, 50], "range": [0, 50], "nice": false, "zero": false}, "axis": null}, "text": {"field": "t"}}},
      {"data": {"values": [{"t": "-/-"}]}, "mark": {"type": "text", "font": "Lato", "fontSize": 26, "align": "left", "baseline": "alphabetic", "color": "black"},
       "encoding": {"x": {"datum": 1131, "type": "quantitative"}, "y": {"datum": -606, "type": "quantitative", "scale": {"domain": [0, 50], "range": [0, 50], "nice": false, "zero": false}, "axis": null}, "text": {"field": "t"}}},
      {"data": {"values": [{"t": "C57Bl/6"}]}, "mark": {"type": "text", "font": "Lato", "fontSize": 39, "align": "left", "baseline": "alphabetic", "color": "black"},
       "encoding": {"x": {"datum": 1026, "type": "quantitative"}, "y": {"datum": -246, "type": "quantitative", "scale": {"domain": [0, 50], "range": [0, 50], "nice": false, "zero": false}, "axis": null}, "text": {"field": "t"}}},
      {"transform": [{"filter": "datum.part === 'bold'"}], "mark": {"type": "text", "font": "Liberation Sans", "fontSize": 19.5, "fontWeight": "bold", "align": "left", "baseline": "middle", "color": "#222222"},
       "encoding": {"x": {"datum": -81, "type": "quantitative"}, "y": {"field": "line", "type": "quantitative", "scale": {"domain": [1, 3], "range": [-14, 43], "nice": false, "zero": false}, "axis": null}, "text": {"field": "text"}}},
      {"transform": [{"filter": "datum.part === 'rest'"}], "mark": {"type": "text", "font": "Liberation Sans", "fontSize": 19.5, "align": "left", "baseline": "middle", "color": "#222222", "dx": 56},
       "encoding": {"x": {"datum": -81, "type": "quantitative"}, "y": {"field": "line", "type": "quantitative", "scale": {"domain": [1, 3], "range": [-14, 43], "nice": false, "zero": false}, "axis": null}, "text": {"field": "text"}}},
      {"transform": [{"filter": "datum.part === 'body'"}], "mark": {"type": "text", "font": "Liberation Sans", "fontSize": 19.5, "align": "left", "baseline": "middle", "color": "#222222"},
       "encoding": {"x": {"datum": -81, "type": "quantitative"}, "y": {"field": "line", "type": "quantitative", "scale": {"domain": [1, 3], "range": [-14, 43], "nice": false, "zero": false}, "axis": null}, "text": {"field": "text"}}}
    ]
  }
]
}
